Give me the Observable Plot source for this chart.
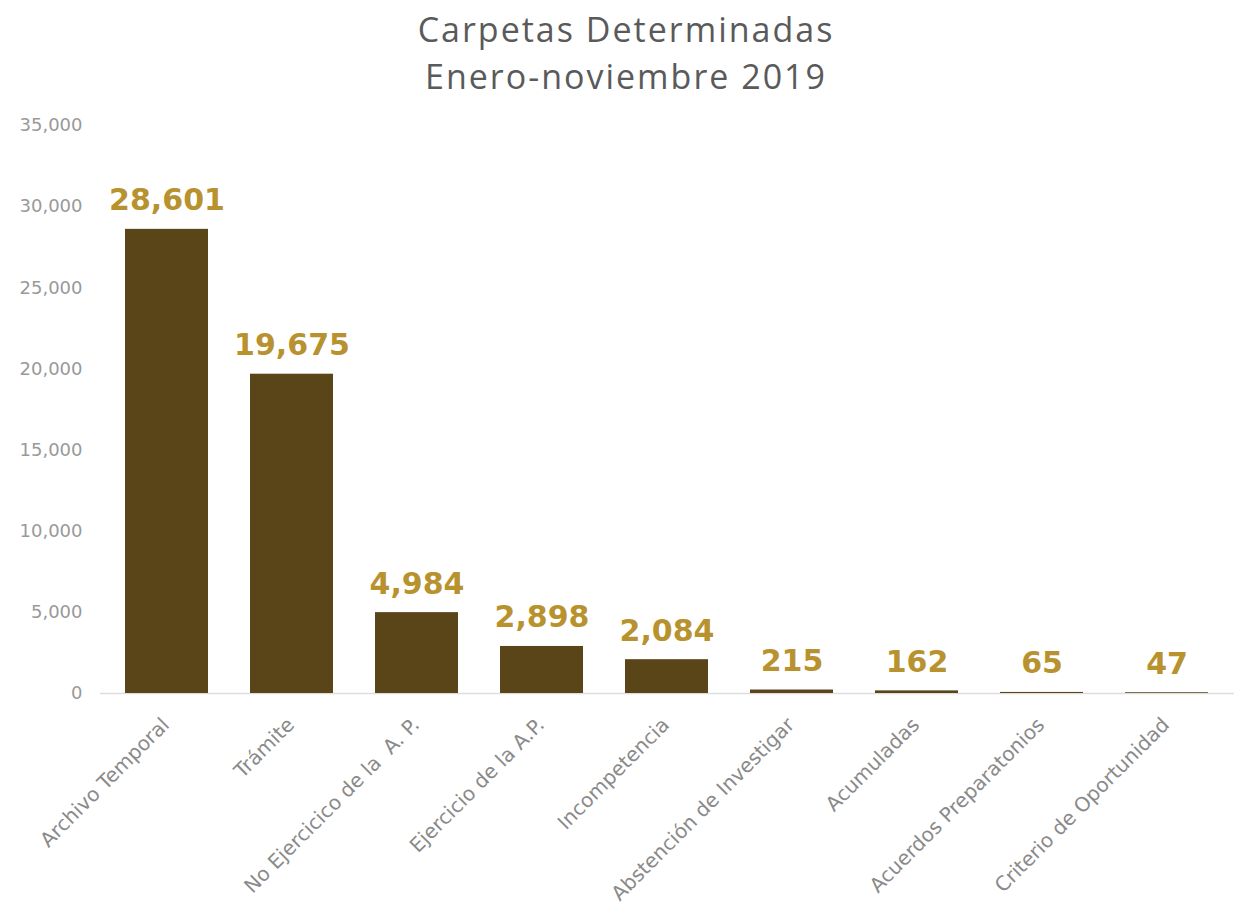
<!DOCTYPE html>
<html>
<head>
<meta charset="utf-8">
<script src="https://cdn.jsdelivr.net/npm/d3@7"></script>
<script src="https://cdn.jsdelivr.net/npm/@observablehq/plot@0.6"></script>
<style>
  html, body { margin: 0; padding: 0; background: #fff; }
  #wrap { width: 1234px; }
  #title { height: 105px; text-align: center; font-family: "Open Sans", sans-serif; font-weight: 400;
    color: #5a5a5a; font-size: 34px; line-height: 47px; padding-top: 6px; padding-left: 18px; box-sizing: border-box; letter-spacing: 2px; }
</style>
</head>
<body>
<div id="wrap">
  <div id="title">Carpetas Determinadas<br>Enero-noviembre 2019</div>
  <div id="chart"></div>
</div>
<script>
const categories = ["Archivo Temporal", "Trámite", "No Ejercicico de la  A. P.", "Ejercicio de la A.P.", "Incompetencia", "Abstención de Investigar", "Acumuladas", "Acuerdos Preparatonios", "Criterio de Oportunidad"];
const values = [28601, 19675, 4984, 2898, 2084, 215, 162, 65, 47];
const yTicks = [0, 5000, 10000, 15000, 20000, 25000, 30000, 35000];

const data = categories.map((c, i) => ({category: c, value: values[i]}));
const fmt = d3.format(",");

const chart = Plot.plot({
  width: 1234,
  height: 806,
  marginTop: 20,
  marginBottom: 218,
  marginLeft: 100,
  marginRight: 0,
  style: {fontFamily: "'DejaVu Sans', sans-serif", background: "#fff"},
  x: {domain: categories, paddingInner: 0.333, paddingOuter: 0.167, label: null},
  y: {domain: [0, 35000], label: null},
  marks: [
    Plot.axisY({ticks: yTicks, tickFormat: d => fmt(d), tickSize: 0, tickPadding: 18, fontSize: 18, color: "#999", anchor: "left", style: {letterSpacing: "2px"}}),
    Plot.axisX({tickSize: 0, tickRotate: -45, fontSize: 20, color: "#8a8a8a", tickPadding: 22, textAnchor: "end", dx: -1, dy: 6, style: {letterSpacing: "1.3px"}}),
    Plot.ruleY([0], {stroke: "#ddd", strokeWidth: 1.5}),
    Plot.barY(data, {x: "category", y: "value", fill: "#5a4519"}),
    Plot.text(data, {x: "category", y: "value", text: d => fmt(d.value), dy: -19, lineAnchor: "bottom",
      fill: "#b8922f", fontSize: 30, fontWeight: "bold"})
  ]
});
document.getElementById("chart").appendChild(chart);
</script>
</body>
</html>
